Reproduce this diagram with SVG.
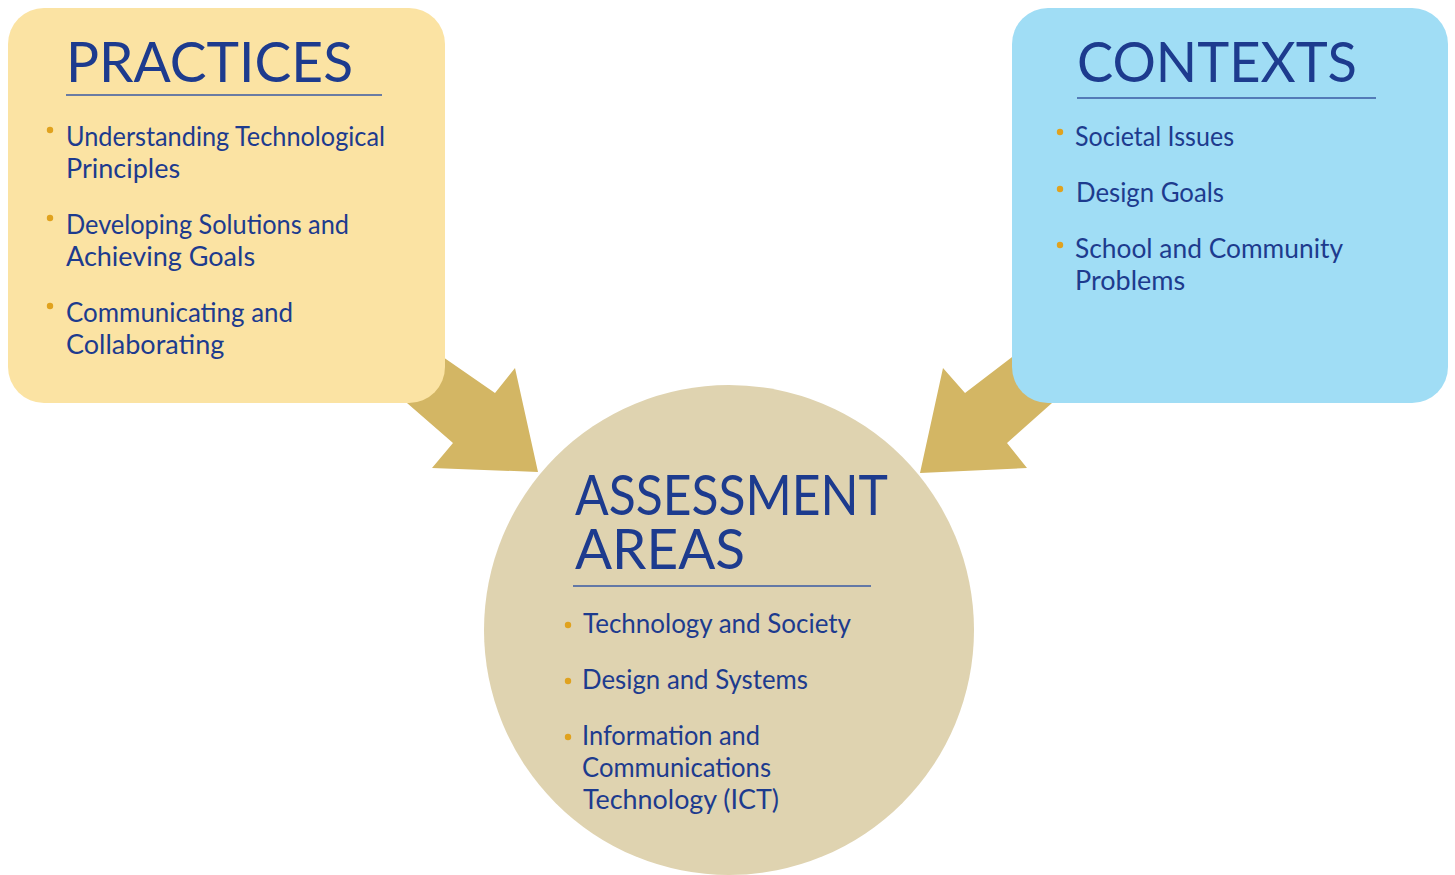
<svg xmlns="http://www.w3.org/2000/svg" width="1455" height="875" viewBox="0 0 1455 875">
<style>
.head{font-family:Lato,"Open Sans","Liberation Sans",sans-serif;font-size:56px;fill:#1D3B8E;}
.item{font-family:Lato,"Open Sans","Liberation Sans",sans-serif;font-size:27px;fill:#1D3B8E;}
.rule{stroke:#3A5AA3;stroke-width:1.6;}
.dot{fill:#E0A21E;}
.arrow{fill:#D3B664;}
</style>
<rect width="1455" height="875" fill="#FFFFFF"/>
<g id="connectors">
<polygon class="arrow" points="391,321 495,393 515,368 538,472 432,468 453,443 361,363"/>
<polygon class="arrow" points="1059,321 965,393 943,368 920,473 1027,468 1007,443 1097,363"/>
</g>
<g id="practices">
<rect x="8" y="8" width="437" height="395" rx="36" fill="#FBE3A3"/>
<text class="head" x="66" y="82" textLength="287" lengthAdjust="spacingAndGlyphs">PRACTICES</text>
<line class="rule" x1="66" y1="95" x2="382" y2="95"/>
<circle class="dot" cx="50" cy="130" r="3.2"/>
<text class="item" x="66" y="146" textLength="319" lengthAdjust="spacingAndGlyphs">Understanding Technological</text>
<text class="item" x="66" y="178">Principles</text>
<circle class="dot" cx="50" cy="218" r="3.2"/>
<text class="item" x="66" y="234" textLength="283" lengthAdjust="spacingAndGlyphs">Developing Solutions and</text>
<text class="item" x="66" y="266">Achieving Goals</text>
<circle class="dot" cx="50" cy="306" r="3.2"/>
<text class="item" x="66" y="322" textLength="227" lengthAdjust="spacingAndGlyphs">Communicating and</text>
<text class="item" x="66" y="354">Collaborating</text>
</g>
<g id="contexts">
<rect x="1012" y="8" width="436" height="395" rx="36" fill="#A0DDF5"/>
<text class="head" x="1077" y="82" textLength="280" lengthAdjust="spacingAndGlyphs">CONTEXTS</text>
<line class="rule" x1="1077" y1="98" x2="1376" y2="98"/>
<circle class="dot" cx="1060" cy="132" r="3.2"/>
<text class="item" x="1075" y="146" textLength="159" lengthAdjust="spacingAndGlyphs">Societal Issues</text>
<circle class="dot" cx="1060" cy="189" r="3.2"/>
<text class="item" x="1076" y="202" textLength="148" lengthAdjust="spacingAndGlyphs">Design Goals</text>
<circle class="dot" cx="1060" cy="245" r="3.2"/>
<text class="item" x="1075" y="258" textLength="268" lengthAdjust="spacingAndGlyphs">School and Community</text>
<text class="item" x="1075" y="290">Problems</text>
</g>
<g id="assessment">
<circle cx="729" cy="630" r="245" fill="#DFD3B0"/>
<text class="head"><tspan x="575" y="515" textLength="313" lengthAdjust="spacingAndGlyphs">ASSESSMENT</tspan><tspan x="575" y="569" textLength="170" lengthAdjust="spacingAndGlyphs">AREAS</tspan></text>
<line class="rule" x1="573" y1="586" x2="871" y2="586"/>
<circle class="dot" cx="568" cy="625" r="3.2"/>
<text class="item" x="583" y="633" textLength="268" lengthAdjust="spacingAndGlyphs">Technology and Society</text>
<circle class="dot" cx="568" cy="681" r="3.2"/>
<text class="item" x="582" y="689" textLength="226" lengthAdjust="spacingAndGlyphs">Design and Systems</text>
<circle class="dot" cx="568" cy="737" r="3.2"/>
<text class="item" x="582" y="745" textLength="178" lengthAdjust="spacingAndGlyphs">Information and</text>
<text class="item" x="582" y="777" textLength="189" lengthAdjust="spacingAndGlyphs">Communications</text>
<text class="item" x="583" y="809" textLength="196" lengthAdjust="spacingAndGlyphs">Technology (ICT)</text>
</g>
</svg>
